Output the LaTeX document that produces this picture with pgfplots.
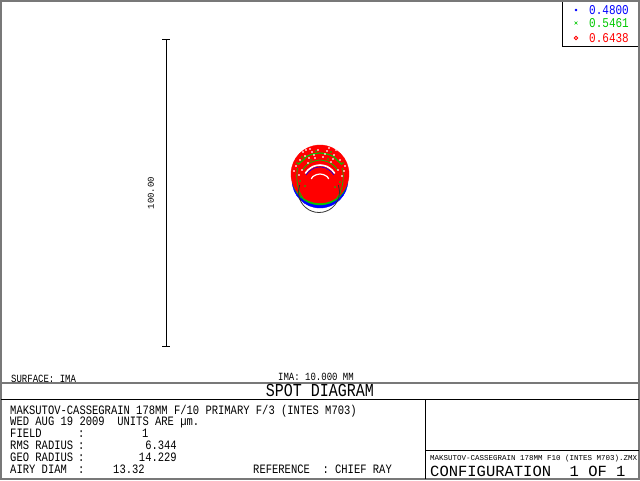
\documentclass[border=0pt]{standalone}
\usepackage{fontspec}
\setmainfont{Liberation Mono}
\setmonofont{Liberation Mono}
\usepackage{pgfplots}
\pgfplotsset{compat=1.18}
\definecolor{zred}{RGB}{255,0,0}
\definecolor{zgreen}{RGB}{0,200,0}
\definecolor{zblue}{RGB}{0,0,255}
\definecolor{zgray}{RGB}{120,120,120}
\newcommand{\fs}[1]{\fontsize{#1}{#1}\selectfont}
\tikzset{txt/.style={inner sep=0pt, yscale=1.22, transform shape}}
\begin{document}
\begin{tikzpicture}
\begin{axis}[scale only axis, width=640pt, height=480pt,
  xmin=0, xmax=640, ymin=0, ymax=480, y dir=reverse,
  hide axis, clip=false, clip mode=individual, anchor=south west, at={(0,0)}]

% ---- spot (wavelength disks, back to front)
\addplot[only marks, mark=*, mark size=28, zblue, mark options={draw=zblue, fill=zblue}] coordinates {(320,180)};
\addplot[only marks, mark=*, mark size=28, zgreen, mark options={draw=zgreen, fill=zgreen}] coordinates {(320,177)};
\addplot[only marks, mark=*, mark size=29, zred, mark options={draw=zred, fill=zred}] coordinates {(320,174)};

% ---- ring structure inside the spot
\addplot[zgreen, line width=1.2pt, smooth] coordinates {
(342.1,164.5)(338.4,161.3)(333.5,156.6)(329.2,154.6)(320,153)(310.8,154.6)(306.5,156.6)(301.6,161.3)(297.9,164.5)};
\addplot[zgreen, line width=0.8pt, smooth] coordinates {
(337.3,170)(335.3,167.1)(330.0,162.7)(320,160)(310.0,162.7)(304.7,167.1)(302.7,170)};
\addplot[white, line width=1.6pt, smooth] coordinates {
(334.7,173.5)(332.0,170.0)(326.8,166.4)(320,165)(313.2,166.4)(308.0,170.0)(305.3,173.5)};
\addplot[zblue, line width=0.6pt, smooth] coordinates {
(333.9,175)(331.3,171.7)(325.5,168.0)(320,167)(314.5,168.0)(308.7,171.7)(306.1,175)};
\addplot[white, line width=1.2pt, smooth] coordinates {
(328.7,179)(327.1,176.6)(323.4,174.6)(320,174)(316.6,174.6)(312.9,176.6)(311.3,179)};
\addplot[zgreen, line width=0.7pt, smooth] coordinates {
(297.5,168)(296.8,176)(297.4,184)(299.5,192)(303,198)};
\addplot[zgreen, line width=0.7pt, smooth] coordinates {
(342.5,168)(343.2,176)(342.6,184)(340.5,192)(337,198)};

% speckles
\addplot[only marks, mark=*, mark size=0.6, white, mark options={draw=white, fill=white}] coordinates {
(300,160)(305,156)(312,152)(327,151)(334,155)(340,160)(296,166)(345,166)(308,163)
(331,162)(315,158)(323,157)(302,170)(338,170)(318,150)(310,149)(329,148)(299,175)
(342,176)(306,150)(336,150)(303,152)(314,155)(325,154)(344,171)(294,171)(309,158)(333,159)};
\addplot[only marks, mark=*, mark size=0.5, zgreen, mark options={draw=zgreen, fill=zgreen}] coordinates {
(302,157)(316,151)(331,152)(343,163)(297,163)(311,160)
(328,159)(300,181)(340,182)(305,186)(335,187)};

% Airy disk
\addplot[black!80, line width=0.8pt, smooth] coordinates {
(299.7,185.0)(298.5,192)(299.7,199.0)(303.3,205.2)(308.8,209.8)(315.4,212.2)
(322.6,212.2)(329.3,209.8)(334.7,205.2)(338.3,199.0)(339.5,192)(338.3,185.0)};

% ---- scale bar (100 um)
\addplot[black, line width=0.9pt] coordinates {(166,39)(166,346)};
\addplot[black, line width=0.9pt] coordinates {(162,39)(170,39)};
\addplot[black, line width=0.9pt] coordinates {(162,346)(170,346)};
\node[rotate=90, inner sep=0pt] at (axis cs:151,193) {\fs{9}100.00};

% ---- legend
\draw[black, line width=0.8pt] (axis cs:562,1) -- (axis cs:562,46) -- (axis cs:639,46);
\addplot[only marks, mark=*, mark size=1, zblue] coordinates {(576,10)};
\addplot[only marks, mark=x, mark size=2, zgreen, line width=0.6pt] coordinates {(576,23)};
\addplot[only marks, mark=o, mark size=1.8, zred, line width=0.8pt] coordinates {(576,38)};
\node[txt, anchor=base west, text=zblue] at (axis cs:589,14) {\fs{11}0.4800};
\node[txt, anchor=base west, text=zgreen] at (axis cs:589,27) {\fs{11}0.5461};
\node[txt, anchor=base west, text=zred] at (axis cs:589,42) {\fs{11}0.6438};

% ---- frame and boxes
\draw[zgray, line width=1.5pt] (axis cs:1,1) rectangle (axis cs:639,479);
\draw[zgray, line width=1.6pt] (axis cs:1,383) -- (axis cs:639,383);
\draw[black, line width=0.9pt] (axis cs:1,399) -- (axis cs:639,399);
\draw[black, line width=0.9pt] (axis cs:425,399) -- (axis cs:425,479);
\draw[black, line width=0.9pt] (axis cs:425,450) -- (axis cs:639,450);

% ---- texts
\node[txt, anchor=base west] at (axis cs:11,382) {\fs{9}SURFACE: IMA};
\node[txt, anchor=base] at (axis cs:316,380) {\fs{9}IMA: 10.000 MM};
\node[txt, anchor=base] at (axis cs:320,396) {\fs{15}SPOT DIAGRAM};

\node[txt, anchor=base west] at (axis cs:10,414) {\fs{10.5}MAKSUTOV-CASSEGRAIN 178MM F/10 PRIMARY F/3 (INTES M703)};
\node[txt, anchor=base west] at (axis cs:10,425.5) {\fs{10.5}WED AUG 19 2009\ \ UNITS ARE µm.};
\node[txt, anchor=base west] at (axis cs:10,437) {\fs{10.5}FIELD};
\node[txt, anchor=base west] at (axis cs:10,449) {\fs{10.5}RMS RADIUS};
\node[txt, anchor=base west] at (axis cs:10,461) {\fs{10.5}GEO RADIUS};
\node[txt, anchor=base west] at (axis cs:10,473) {\fs{10.5}AIRY DIAM};
\node[txt, anchor=base west] at (axis cs:78,437) {\fs{10.5}:};
\node[txt, anchor=base west] at (axis cs:78,449) {\fs{10.5}:};
\node[txt, anchor=base west] at (axis cs:78,461) {\fs{10.5}:};
\node[txt, anchor=base west] at (axis cs:78,473) {\fs{10.5}:};
\node[txt, anchor=base west] at (axis cs:142,437) {\fs{10.5}1};
\node[txt, anchor=base east] at (axis cs:177,449) {\fs{10.5}6.344};
\node[txt, anchor=base east] at (axis cs:177,461) {\fs{10.5}14.229};
\node[txt, anchor=base west] at (axis cs:113,473) {\fs{10.5}13.32};
\node[txt, anchor=base west] at (axis cs:253,473) {\fs{10.5}REFERENCE\ \ : CHIEF RAY};

\node[inner sep=0pt, anchor=base west] at (axis cs:430,460) {\fs{7.5}MAKSUTOV-CASSEGRAIN 178MM F10 (INTES M703).ZMX};
\node[inner sep=0pt, anchor=base west] at (axis cs:430,476.5) {\fs{15.5}CONFIGURATION\ \ 1 OF 1};
\end{axis}
\pgfresetboundingbox
\path[use as bounding box] (0,0) rectangle (640pt,480pt);
\end{tikzpicture}
\end{document}
